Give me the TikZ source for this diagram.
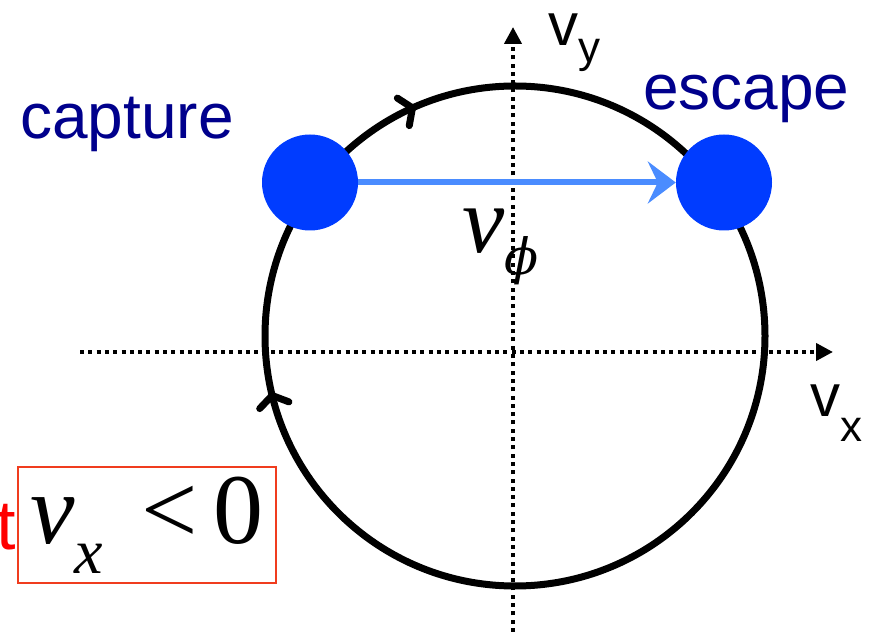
\documentclass[tikz,border=0pt]{standalone}
\usepackage{fontspec}
\setmainfont{Liberation Sans}
\newfontfamily\timesfont{Liberation Serif}
\newfontfamily\phifont{DejaVu Serif}
\usepackage{tikz}
\usetikzlibrary{arrows.meta,positioning,decorations.markings}
\definecolor{dotblue}{RGB}{0,60,255}
\definecolor{arrowblue}{RGB}{74,140,255}
\definecolor{labelnavy}{RGB}{0,0,140}
\definecolor{boxred}{RGB}{240,60,30}
\tikzstyle{particle}=[circle,fill=dotblue,minimum size=96pt,inner sep=0pt]
\tikzstyle{tag}=[text=labelnavy,inner sep=0pt,font=\fontsize{64}{64}\selectfont]
\tikzstyle{axlabel}=[inner sep=0pt,font=\fontsize{60}{60}\selectfont]
\tikzstyle{axis}=[line width=4pt,dash pattern=on 4pt off 4.3pt,-{Triangle[length=17pt,width=17pt]}]
\tikzstyle{orbit}=[line width=7pt]
\tikzstyle{arrow}=[-{Stealth[length=28pt,width=42pt,inset=10pt]},line width=6pt,draw=arrowblue]

\begin{document}
\begin{tikzpicture}[x=1pt,y=1pt]
  \useasboundingbox (0,0) rectangle (879,632);
  \coordinate (o) at (515,296);
  \coordinate (xl) at (80,280);
  \coordinate (xr) at (833,280);
  \coordinate (yb) at (513,0);
  \coordinate (yt) at (513,605);

  % velocity axes
  \draw[axis] (xl) -- (xr);
  \draw[axis] (yb) -- (yt);

  % orbit in velocity space, run clockwise
  \draw[orbit,postaction={decorate},decoration={markings,
      mark=at position 0.464 with {\arrow{Straight Barb[length=10pt,width=30pt,round]}},
      mark=at position 0.685 with {\arrow{Straight Barb[length=10pt,width=30pt,round]}}}]
    (o) ++(0:250) arc[start angle=0,end angle=-360,radius=250];

  \node[particle] (capture) at (310,449.5) {};
  \node[particle] (escape) at (724,449.5) {};
  \draw[arrow] (capture) -- (escape);

  \node[tag,anchor=base west] (capturelbl) at (20,493) {capture};
  \node[tag,anchor=base west] (escapelbl) at (643,522) {escape};
  \node[axlabel,anchor=base west] (vy) at (548,586) {v\raisebox{-17pt}{\fontsize{44}{44}\selectfont y}};
  \node[axlabel,anchor=base west] (vx) at (810,215) {v\raisebox{-25pt}{\fontsize{44}{44}\selectfont x}};
  \node[inner sep=0pt,anchor=base west] (vphi) at (462,379)
    {\timesfont\itshape\fontsize{95}{95}\selectfont v\raisebox{-22pt}{\phifont\itshape\fontsize{50}{50}\selectfont ϕ}};

  \node[draw=boxred,line width=2pt,minimum width=258pt,minimum height=116pt,inner sep=0pt] (cond) at (147,107)
    {\timesfont\fontsize{100}{100}\selectfont\textit{v}\raisebox{-30pt}{\fontsize{64}{64}\selectfont\textit{x}}\hspace{38pt}<\hspace{16pt}0};
  \node[text=red,anchor=base east,inner sep=0pt,font=\fontsize{70}{70}\selectfont] (cut) at (16,82) {t};
\end{tikzpicture}
\end{document}
